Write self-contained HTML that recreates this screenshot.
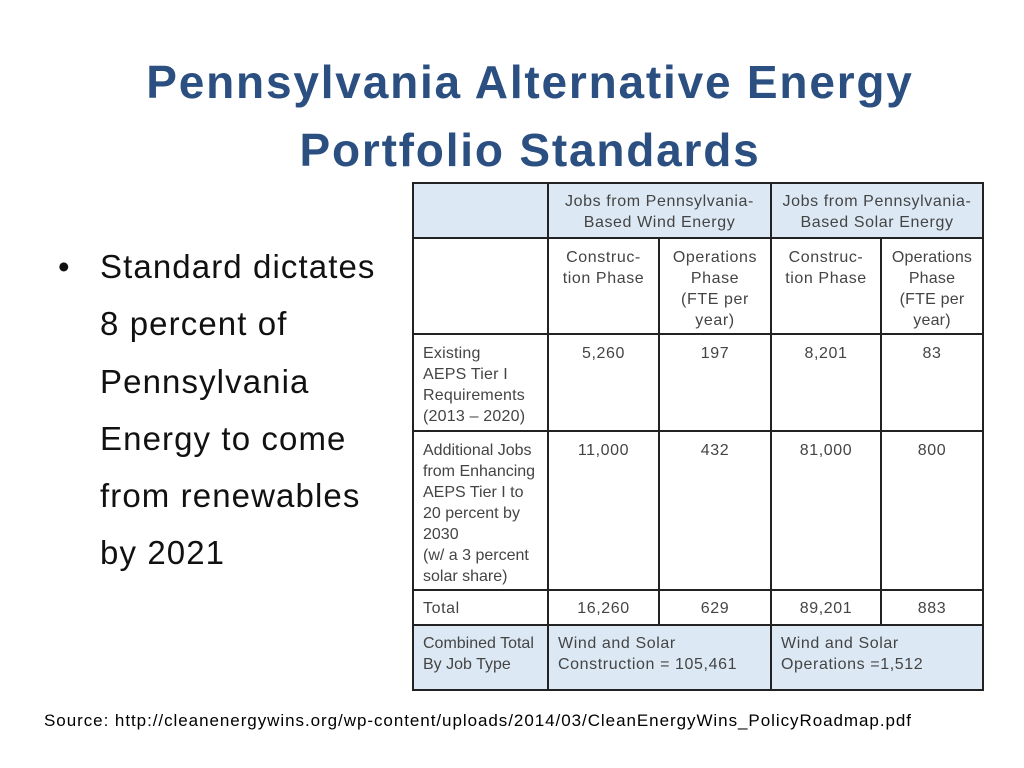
<!DOCTYPE html>
<html><head><meta charset="utf-8"><style>
body{margin:0;width:1024px;height:768px;background:#fff;position:relative;overflow:hidden;font-family:"Liberation Sans",sans-serif}
.title{position:absolute;left:0;width:1060px;text-align:center;top:48px;color:#2a4f80;font-weight:bold;font-size:46px;line-height:68px;letter-spacing:1.8px}
.bul{position:absolute;left:56px;top:238px;font-size:33px;line-height:57.3px;color:#111}
.bul .dot{position:absolute;left:2px;top:0}
.bul .txt{position:absolute;left:44px;top:0;white-space:nowrap;letter-spacing:1.1px}
.c{position:absolute;box-sizing:border-box;border:2px solid #222;font-size:16px;line-height:21px;color:#444;padding-top:8px;letter-spacing:0.6px;white-space:nowrap}
.b{background:#dce9f4}
.ctr{text-align:center}
.l{padding-left:9px}
.src{position:absolute;left:44px;top:711px;font-size:17px;color:#000;letter-spacing:0.95px;white-space:nowrap}
</style></head><body>
<div class="title">Pennsylvania Alternative Energy<br>Portfolio Standards</div>
<div class="bul"><span class="dot">•</span><span class="txt">Standard dictates<br>8 percent of<br>Pennsylvania<br>Energy to come<br>from renewables<br>by 2021</span></div>
<div>
<div class="c b" style="left:412px;top:182px;width:137px;height:57px"></div>
<div class="c b ctr" style="left:547px;top:182px;width:225px;height:57px;padding-top:7px">Jobs from Pennsylvania-<br>Based Wind Energy</div>
<div class="c b ctr" style="left:770px;top:182px;width:214px;height:57px;padding-top:7px">Jobs from Pennsylvania-<br>Based Solar Energy</div>

<div class="c" style="left:412px;top:237px;width:137px;height:98px"></div>
<div class="c ctr" style="left:547px;top:237px;width:113px;height:98px">Construc-<br>tion Phase</div>
<div class="c ctr" style="left:658px;top:237px;width:114px;height:98px">Operations<br>Phase<br>(FTE per<br>year)</div>
<div class="c ctr" style="left:770px;top:237px;width:112px;height:98px">Construc-<br>tion Phase</div>
<div class="c ctr" style="left:880px;top:237px;width:104px;height:98px;letter-spacing:0.2px">Operations<br>Phase<br>(FTE per<br>year)</div>

<div class="c l" style="left:412px;top:333px;width:137px;height:99px;letter-spacing:0.2px">Existing<br>AEPS Tier I<br>Requirements<br>(2013 – 2020)</div>
<div class="c ctr" style="left:547px;top:333px;width:113px;height:99px">5,260</div>
<div class="c ctr" style="left:658px;top:333px;width:114px;height:99px">197</div>
<div class="c ctr" style="left:770px;top:333px;width:112px;height:99px">8,201</div>
<div class="c ctr" style="left:880px;top:333px;width:104px;height:99px">83</div>

<div class="c l" style="left:412px;top:430px;width:137px;height:161px;letter-spacing:0px">Additional Jobs<br>from Enhancing<br>AEPS Tier I to<br>20 percent by<br>2030<br>(w/ a 3 percent<br>solar share)</div>
<div class="c ctr" style="left:547px;top:430px;width:113px;height:161px">11,000</div>
<div class="c ctr" style="left:658px;top:430px;width:114px;height:161px">432</div>
<div class="c ctr" style="left:770px;top:430px;width:112px;height:161px">81,000</div>
<div class="c ctr" style="left:880px;top:430px;width:104px;height:161px">800</div>

<div class="c l" style="left:412px;top:589px;width:137px;height:37px;padding-top:7px">Total</div>
<div class="c ctr" style="left:547px;top:589px;width:113px;height:37px;padding-top:7px">16,260</div>
<div class="c ctr" style="left:658px;top:589px;width:114px;height:37px;padding-top:7px">629</div>
<div class="c ctr" style="left:770px;top:589px;width:112px;height:37px;padding-top:7px">89,201</div>
<div class="c ctr" style="left:880px;top:589px;width:104px;height:37px;padding-top:7px">883</div>

<div class="c b l" style="left:412px;top:624px;width:137px;height:67px;padding-top:7px;letter-spacing:0px">Combined Total<br>By Job Type</div>
<div class="c b l" style="left:547px;top:624px;width:225px;height:67px;padding-top:7px">Wind and Solar<br>Construction = 105,461</div>
<div class="c b l" style="left:770px;top:624px;width:214px;height:67px;padding-top:7px">Wind and Solar<br>Operations =1,512</div>
</div>
<div class="src">Source: http://cleanenergywins.org/wp-content/uploads/2014/03/CleanEnergyWins_PolicyRoadmap.pdf</div>
</body></html>
